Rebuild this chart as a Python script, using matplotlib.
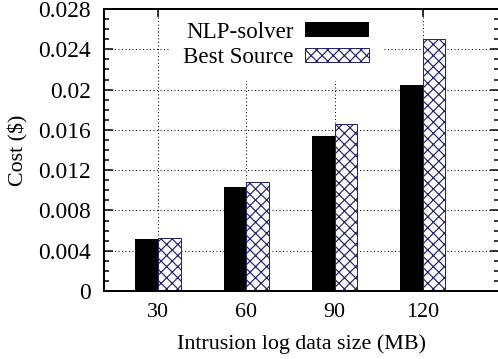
import numpy as np
import matplotlib
matplotlib.use("Agg")
import matplotlib.pyplot as plt
from matplotlib.ticker import MultipleLocator, FuncFormatter
from matplotlib.patches import Patch

# data
sizes = ["30", "60", "90", "120"]
nlp_solver = [0.00516, 0.01036, 0.01542, 0.02045]
best_source = [0.0053, 0.0108, 0.01658, 0.02499]

DPI = 100
W, H = 498, 359


def pt(px):
    # pixel size -> points at this dpi
    return px * 72.0 / DPI


plt.rcParams["font.family"] = ["Liberation Serif", "DejaVu Serif"]
plt.rcParams["hatch.linewidth"] = pt(1.2)

navy = "#25256f"

fig = plt.figure(figsize=(W / DPI, H / DPI), dpi=DPI)
ax = fig.add_axes([104 / W, (H - 291) / H, (499 - 104) / W, 282 / H])

x = np.arange(len(sizes))
bw = 0.255
ax.bar(x - bw / 2, nlp_solver, bw, color="black", edgecolor="black", linewidth=0, zorder=3)
ax.bar(x + bw / 2, best_source, bw, color="white", edgecolor=navy, hatch="xxx",
       linewidth=pt(1.0), zorder=3)

ax.set_xlim(-0.6116, 3.862)
ax.set_ylim(0, 0.028)
ax.set_xticks(x)
ax.set_xticklabels(sizes)
ax.yaxis.set_major_locator(MultipleLocator(0.004))
ax.yaxis.set_minor_locator(MultipleLocator(0.001))
ax.yaxis.set_major_formatter(FuncFormatter(
    lambda v, _: "0" if abs(v) < 1e-12 else ("%.3f" % v).rstrip("0")))

ax.tick_params(axis="y", which="major", direction="in", length=pt(9), width=pt(1.5),
               left=True, right=True, labelsize=pt(23.5), pad=pt(13))
ax.tick_params(axis="y", which="minor", direction="in", length=pt(5), width=pt(1.5),
               left=True, right=True)
ax.tick_params(axis="x", which="major", direction="in", length=pt(8), width=pt(1.5),
               bottom=False, top=True, labelsize=pt(22), pad=pt(12))

for s in ax.spines.values():
    s.set_linewidth(pt(2))
    s.set_zorder(5)

# dotted grid, only on interior lines
for v in np.arange(0.004, 0.028, 0.004):
    ax.axhline(v, color="black", lw=pt(1), linestyle=(0, (1, 2.5)), zorder=1)
for v in x:
    ax.axvline(v, color="black", lw=pt(1), linestyle=(0, (1, 2.5)), zorder=1)

ax.set_xlabel("Intrusion log data size (MB)", fontsize=pt(22), labelpad=pt(12))
ax.set_ylabel("Cost ($)", fontsize=pt(22), labelpad=pt(10))

handles = [Patch(facecolor="black", edgecolor="black", linewidth=0),
           Patch(facecolor="white", edgecolor=navy, hatch="xxx", linewidth=pt(1.0))]
leg = ax.legend(handles, ["NLP-solver", "Best Source"], loc="upper right",
                bbox_to_anchor=(382 / W, 1 - 9 / H), bbox_transform=fig.transFigure,
                markerfirst=False, fontsize=pt(23), frameon=True, fancybox=False,
                framealpha=1, borderpad=0.55, borderaxespad=0, handlelength=2.8,
                handleheight=0.6, handletextpad=0.5, labelspacing=0.2)
leg.get_frame().set_edgecolor("none")
leg.get_frame().set_facecolor("white")
leg.set_zorder(4)

fig.savefig("out.png", dpi=DPI)
